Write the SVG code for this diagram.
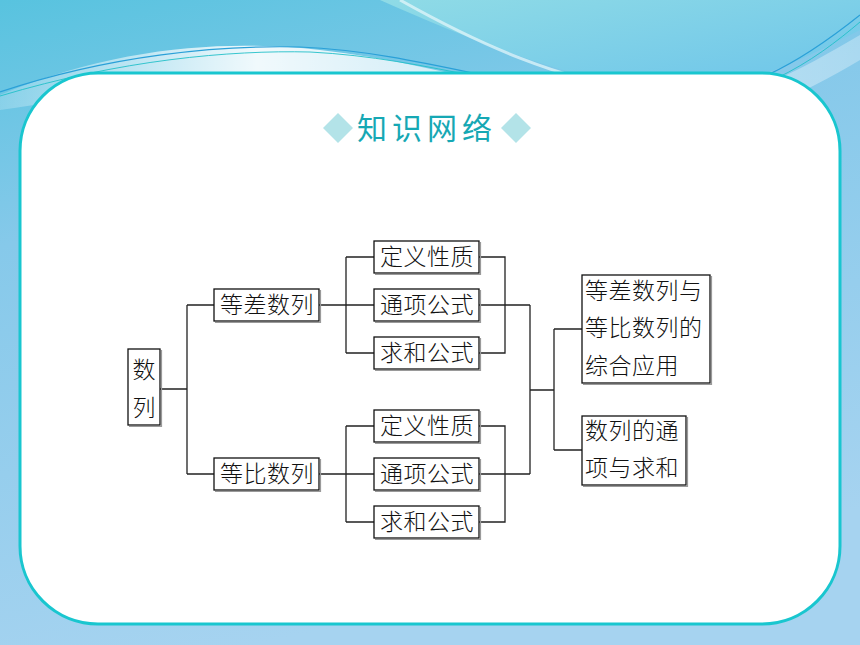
<svg xmlns="http://www.w3.org/2000/svg" width="860" height="645" viewBox="0 0 860 645">
<defs>
<linearGradient id="bg" x1="0" y1="0" x2="0.3" y2="1">
<stop offset="0" stop-color="#58c3df"/>
<stop offset="0.35" stop-color="#86c9ea"/>
<stop offset="1" stop-color="#a6d3f0"/>
</linearGradient>
<linearGradient id="band" x1="0" y1="0" x2="1" y2="0">
<stop offset="0" stop-color="#ffffff" stop-opacity="0.2"/>
<stop offset="0.3" stop-color="#ffffff" stop-opacity="0.9"/>
<stop offset="0.7" stop-color="#ffffff" stop-opacity="0.5"/>
<stop offset="1" stop-color="#ffffff" stop-opacity="0.3"/>
</linearGradient>
<linearGradient id="tr" x1="0" y1="0" x2="1" y2="1">
<stop offset="0" stop-color="#8fdbe6"/>
<stop offset="1" stop-color="#6cc4ea"/>
</linearGradient>
<style>
.box{fill:#ffffff;stroke:#111111;stroke-width:1.3}
.sh{fill:none;stroke:#9a9a9a;stroke-width:1.2}
.t{font-family:"Noto Sans CJK SC","Noto Sans CJK JP",sans-serif;font-size:23px;font-weight:300;fill:#111111;text-anchor:middle}
.l{text-anchor:start}
.c{fill:none;stroke:#222222;stroke-width:1.3}
</style>
</defs>
<rect width="860" height="645" fill="url(#bg)"/>
<path d="M380 0 C470 40 560 75 640 88 C730 100 800 60 860 30 L860 0 Z" fill="url(#tr)"/>
<path d="M0 95 C120 45 230 40 320 50 C430 62 520 95 620 108 C720 118 800 70 860 35 L860 60 C800 95 720 140 600 128 C480 118 400 85 300 80 C200 76 100 95 0 110 Z" fill="url(#band)"/>
<path d="M0 92 C110 55 220 45 300 47 C420 52 520 92 640 100 C740 105 810 55 860 15" fill="none" stroke="#2aa0d8" stroke-width="1.2"/>
<path d="M0 96 C120 60 230 50 310 52 C430 58 530 96 650 103 C750 108 815 60 860 22" fill="none" stroke="#22c0c8" stroke-width="0.9"/>
<path d="M400 0 C480 45 560 80 640 90" fill="none" stroke="#e8f8fb" stroke-width="3" opacity="0.7"/>
<rect x="20" y="73" width="820" height="551" rx="78" ry="78" fill="#ffffff" stroke="#19c6cf" stroke-width="3"/>
<g id="title">
<polygon points="338,113 353,128 338,143 323,128" fill="#b3e3e8"/>
<polygon points="516,113 531,128 516,143 501,128" fill="#b3e3e8"/>
<text x="427" y="139" font-family="'Noto Sans CJK SC','Noto Sans CJK JP',sans-serif" font-size="30" font-weight="400" fill="#16a8b4" text-anchor="middle" letter-spacing="5">知识网络</text>
</g>
<g id="connectors">
<path class="c" d="M160 389 H187 M187 305 V474 M187 305 H214 M187 474 H214"/>
<path class="c" d="M319 305 H374 M346 257 V353 M346 257 H374 M346 353 H374"/>
<path class="c" d="M479 257 H505 V353 H479 M479 305 H530"/>
<path class="c" d="M319 474 H374 M346 426 V522 M346 426 H374 M346 522 H374"/>
<path class="c" d="M479 426 H505 V522 H479 M479 474 H530"/>
<path class="c" d="M530 305 V474 M530 390 H554 M554 329 V450 M554 329 H582 M554 450 H582"/>
</g>
<g id="n-shulie">
<rect class="box" x="128" y="349" width="32" height="76"/>
<path class="sh" d="M161.5 350 V426.5 H129"/>
<text class="t" x="144" y="378">数</text>
<text class="t" x="144" y="416">列</text>
</g>
<g id="n-dengcha">
<rect class="box" x="214" y="289" width="105" height="32"/>
<path class="sh" d="M320.5 290 V322.5 H215"/>
<text class="t" x="267" y="313" letter-spacing="0.5">等差数列</text>
</g>
<g id="n-dengbi">
<rect class="box" x="214" y="458" width="105" height="32"/>
<path class="sh" d="M320.5 459 V491.5 H215"/>
<text class="t" x="267" y="482" letter-spacing="0.5">等比数列</text>
</g>
<g id="n-dingyi1">
<rect class="box" x="374" y="241" width="105" height="32"/>
<path class="sh" d="M480.5 242 V274.5 H375"/>
<text class="t" x="427" y="265" letter-spacing="0.5">定义性质</text>
</g>
<g id="n-tongxiang1">
<rect class="box" x="374" y="289" width="105" height="32"/>
<path class="sh" d="M480.5 290 V322.5 H375"/>
<text class="t" x="427" y="313" letter-spacing="0.5">通项公式</text>
</g>
<g id="n-qiuhe1">
<rect class="box" x="374" y="337" width="105" height="32"/>
<path class="sh" d="M480.5 338 V370.5 H375"/>
<text class="t" x="427" y="361" letter-spacing="0.5">求和公式</text>
</g>
<g id="n-dingyi2">
<rect class="box" x="374" y="410" width="105" height="32"/>
<path class="sh" d="M480.5 411 V443.5 H375"/>
<text class="t" x="427" y="434" letter-spacing="0.5">定义性质</text>
</g>
<g id="n-tongxiang2">
<rect class="box" x="374" y="458" width="105" height="32"/>
<path class="sh" d="M480.5 459 V491.5 H375"/>
<text class="t" x="427" y="482" letter-spacing="0.5">通项公式</text>
</g>
<g id="n-qiuhe2">
<rect class="box" x="374" y="506" width="105" height="32"/>
<path class="sh" d="M480.5 507 V539.5 H375"/>
<text class="t" x="427" y="530" letter-spacing="0.5">求和公式</text>
</g>
<g id="n-zonghe">
<rect class="box" x="582" y="275" width="128" height="108"/>
<path class="sh" d="M711.5 276 V384.5 H583"/>
<text class="t l" x="585" y="299" letter-spacing="0.5">等差数列与</text>
<text class="t l" x="585" y="336" letter-spacing="0.5">等比数列的</text>
<text class="t l" x="585" y="374" letter-spacing="0.5">综合应用</text>
</g>
<g id="n-tongxiangqiuhe">
<rect class="box" x="582" y="416" width="104" height="69"/>
<path class="sh" d="M687.5 417 V486.5 H583"/>
<text class="t l" x="585" y="439" letter-spacing="0.5">数列的通</text>
<text class="t l" x="585" y="476" letter-spacing="0.5">项与求和</text>
</g>
</svg>
